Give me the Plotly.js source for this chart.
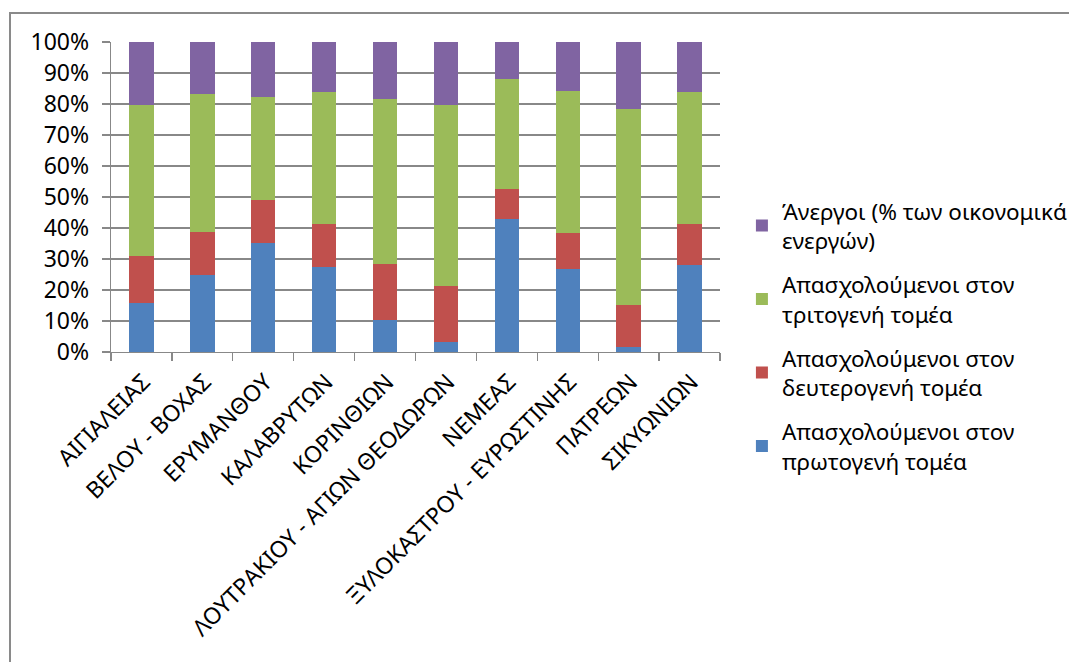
<!DOCTYPE html>
<html>
<head>
<meta charset="utf-8">
<script src="https://cdn.plot.ly/plotly-3.0.1.min.js"></script>
<style>
html,body{margin:0;padding:0;background:#fff;}
#wrap{position:relative;width:1069px;height:662px;overflow:hidden;}
#chart{position:absolute;left:0;top:0;width:1069px;height:662px;}
#frame{position:absolute;left:9px;top:12px;width:1100px;height:700px;border:2px solid #8a8a8a;box-sizing:border-box;pointer-events:none;}
</style>
</head>
<body>
<div id="wrap"><div id="chart"></div><div id="frame"></div></div>
<script>
const categories = [
  "ΑΙΓΙΑΛΕΙΑΣ",
  "ΒΕΛΟΥ - ΒΟΧΑΣ",
  "ΕΡΥΜΑΝΘΟΥ",
  "ΚΑΛΑΒΡΥΤΩΝ",
  "ΚΟΡΙΝΘΙΩΝ",
  "ΛΟΥΤΡΑΚΙΟΥ - ΑΓΙΩΝ ΘΕΟΔΩΡΩΝ",
  "ΝΕΜΕΑΣ",
  "ΞΥΛΟΚΑΣΤΡΟΥ - ΕΥΡΩΣΤΙΝΗΣ",
  "ΠΑΤΡΕΩΝ",
  "ΣΙΚΥΩΝΙΩΝ"
];
const primary   = [15.7, 24.9, 35.3, 27.5, 10.4,  3.3, 42.8, 26.7,  1.5, 28.2];
const secondary = [15.3, 13.9, 13.7, 13.9, 18.1, 17.9,  9.9, 11.8, 13.6, 13.2];
const tertiary  = [48.8, 44.4, 33.2, 42.5, 53.1, 58.5, 35.3, 45.8, 63.2, 42.6];
const unemployed= [20.2, 16.8, 17.8, 16.1, 18.4, 20.3, 12.0, 15.7, 21.7, 16.0];
const seriesNames = [
  "Απασχολούμενοι στον<br>πρωτογενή τομέα",
  "Απασχολούμενοι στον<br>δευτερογενή τομέα",
  "Απασχολούμενοι στον<br>τριτογενή τομέα",
  "Άνεργοι (% των οικονομικά<br>ενεργών)"
];
const yTickVals = [0,10,20,30,40,50,60,70,80,90,100];
const yTickText = ["0%","10%","20%","30%","40%","50%","60%","70%","80%","90%","100%"];

const colors = ["#4F81BD","#C0504D","#9BBB59","#8064A2"];
const values = [primary, secondary, tertiary, unemployed];
const FONT = "Noto Sans, sans-serif";

const traces = values.map((v,i)=>({
  type:"bar",
  x:categories,
  y:v,
  name:seriesNames[i],
  legendgroup:"g"+i,
  legendrank:1000 - i,
  marker:{color:colors[i], line:{width:0}},
  hoverinfo:"skip"
}));

const layout = {
  width:1069, height:662,
  barmode:"stack",
  bargap:0.6,
  paper_bgcolor:"#fff",
  plot_bgcolor:"#fff",
  margin:{l:111, r:349, t:42, b:310, pad:0, autoexpand:false},
  font:{family:FONT, size:23, color:"#000"},
  showlegend:true,
  legend:{
    traceorder:"grouped",
    tracegroupgap:12,
    x:1.036, xanchor:"left",
    y:0.523, yanchor:"top",
    font:{family:FONT, size:22.5, color:"#000"},
    bgcolor:"rgba(0,0,0,0)",
    itemclick:false
  },
  xaxis:{
    type:"category",
    automargin:false,
    tickangle:-45,
    tickson:"boundaries",
    ticks:"outside",
    ticklen:8,
    tickcolor:"#888",
    tickwidth:1.3,
    showline:true,
    linecolor:"#888",
    linewidth:1.3,
    showgrid:false,
    ticklabelstandoff:6,
    ticklabelshift:2,
    tickfont:{family:FONT, size:23, color:"#000"}
  },
  yaxis:{
    automargin:false,
    range:[0,100],
    tickvals:yTickVals,
    ticktext:yTickText,
    ticks:"outside",
    ticklen:8,
    tickcolor:"#888",
    tickwidth:1.3,
    showline:true,
    linecolor:"#888",
    linewidth:1.3,
    showgrid:true,
    gridcolor:"#888",
    gridwidth:1.3,
    zeroline:false,
    ticklabelstandoff:8,
    tickfont:{family:FONT, size:23, color:"#000"}
  },
  hovermode:false
};

Plotly.newPlot("chart", traces, layout, {displayModeBar:false, staticPlot:true});
</script>
</body>
</html>
